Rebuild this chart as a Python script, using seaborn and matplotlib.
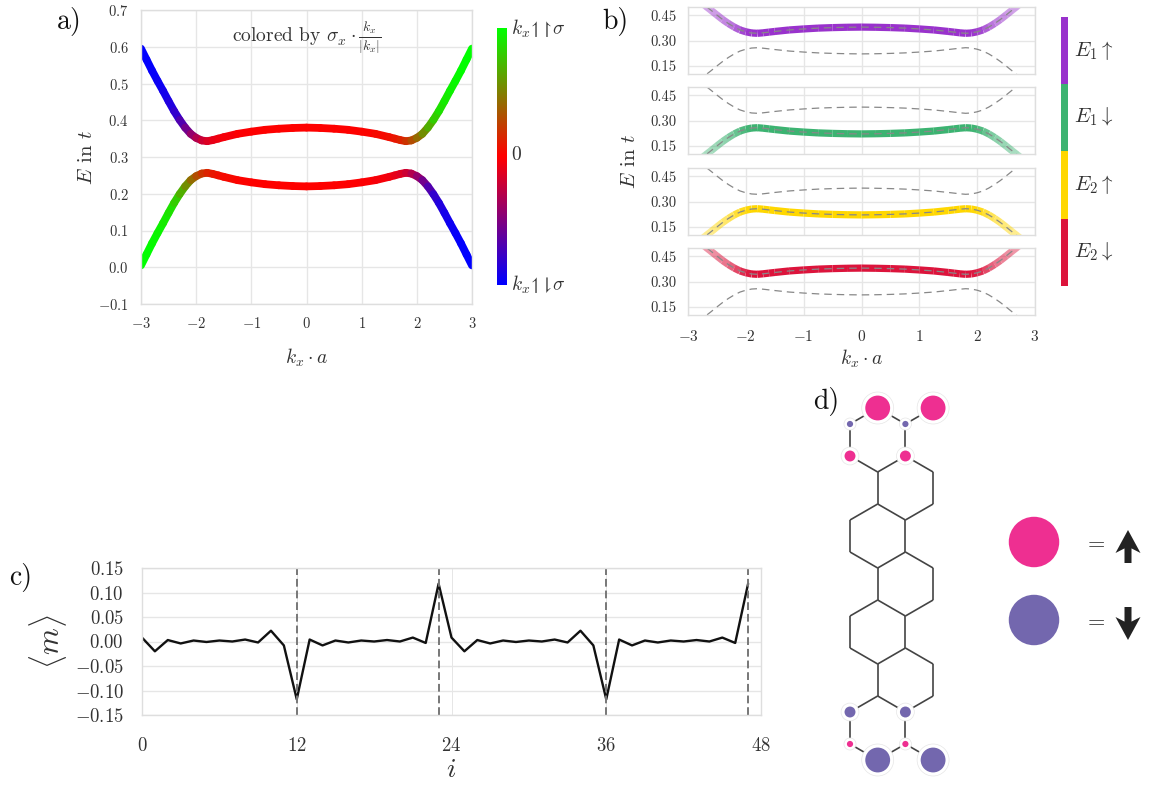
"""
Band structure, spin-resolved bands, magnetisation and lattice sketch.
"""
import numpy as np
import pandas as pd
import matplotlib
matplotlib.use("Agg")
import matplotlib.pyplot as plt
from matplotlib.collections import LineCollection
from matplotlib.colors import LinearSegmentedColormap, ListedColormap, Normalize, to_rgba
from matplotlib.cm import ScalarMappable
from matplotlib.patches import FancyArrow
import seaborn as sns

# momentum grid read off panels a) and b)
kx = [-3.0, -2.9, -2.8, -2.7, -2.6, -2.5, -2.4, -2.3, -2.2, -2.1, -2.0, -1.9, -1.8, -1.7, -1.6, -1.5,
      -1.25, -1.0, -0.75, -0.5, -0.25, 0.0, 0.25, 0.5, 0.75, 1.0, 1.25,
      1.5, 1.6, 1.7, 1.8, 1.9, 2.0, 2.1, 2.2, 2.3, 2.4, 2.5, 2.6, 2.7, 2.8, 2.9, 3.0]
upper_band = [0.595, 0.565, 0.535, 0.507, 0.480, 0.452, 0.425, 0.401, 0.380, 0.363, 0.352, 0.345, 0.343, 0.346, 0.350, 0.354,
              0.363, 0.369, 0.374, 0.377, 0.379, 0.380, 0.379, 0.377, 0.374, 0.369, 0.363,
              0.354, 0.350, 0.346, 0.343, 0.345, 0.352, 0.363, 0.380, 0.401, 0.425, 0.452, 0.480, 0.507, 0.535, 0.565, 0.595]
lower_band = [0.005, 0.035, 0.065, 0.093, 0.120, 0.148, 0.175, 0.199, 0.220, 0.237, 0.248, 0.255, 0.257, 0.254, 0.250, 0.246,
              0.237, 0.231, 0.226, 0.223, 0.221, 0.220, 0.221, 0.223, 0.226, 0.231, 0.237,
              0.246, 0.250, 0.254, 0.257, 0.255, 0.248, 0.237, 0.220, 0.199, 0.175, 0.148, 0.120, 0.093, 0.065, 0.035, 0.005]
upper_spin = [-1.0, -1.0, -0.98, -0.96, -0.94, -0.9, -0.85, -0.75, -0.62, -0.48, -0.36, -0.24, -0.16, -0.11, -0.07, -0.05,
              -0.02, -0.01, 0.0, 0.0, 0.0, 0.0, 0.0, 0.0, 0.0, 0.01, 0.02,
              0.05, 0.07, 0.11, 0.16, 0.24, 0.36, 0.48, 0.62, 0.75, 0.85, 0.9, 0.94, 0.96, 0.98, 1.0, 1.0]
lower_spin = [1.0, 1.0, 0.98, 0.96, 0.94, 0.9, 0.85, 0.75, 0.62, 0.48, 0.36, 0.24, 0.16, 0.11, 0.07, 0.05,
              0.02, 0.01, 0.0, 0.0, 0.0, 0.0, 0.0, 0.0, 0.0, -0.01, -0.02,
              -0.05, -0.07, -0.11, -0.16, -0.24, -0.36, -0.48, -0.62, -0.75, -0.85, -0.9, -0.94, -0.96, -0.98, -1.0, -1.0]
band_weight = [0.35, 0.38, 0.4, 0.43, 0.46, 0.5, 0.55, 0.62, 0.72, 0.85, 0.95, 1.0, 1.0, 1.0, 1.0, 1.0,
               1.0, 1.0, 1.0, 1.0, 1.0, 1.0, 1.0, 1.0, 1.0, 1.0, 1.0,
               1.0, 1.0, 1.0, 1.0, 1.0, 0.95, 0.85, 0.72, 0.62, 0.55, 0.5, 0.46, 0.43, 0.4, 0.38, 0.35]

# panel b) rows, top to bottom
row_labels = [r"$E_1\uparrow$", r"$E_1\downarrow$", r"$E_2\uparrow$", r"$E_2\downarrow$"]
row_colors = ["#9932CC", "#3CB371", "#FFD700", "#DC143C"]
row_is_upper = [True, False, False, True]

# panel c)
site_index = list(range(48))
magnetisation = [0.008, -0.020, 0.003, -0.004, 0.002, -0.001, 0.002, 0.000, 0.004, -0.002, 0.022, -0.008,
                 -0.118, 0.004, -0.008, 0.002, -0.002, 0.002, 0.000, 0.003, 0.000, 0.008, -0.003, 0.118,
                 0.008, -0.020, 0.003, -0.004, 0.002, -0.001, 0.002, 0.000, 0.004, -0.002, 0.022, -0.008,
                 -0.118, 0.004, -0.008, 0.002, -0.002, 0.002, 0.000, 0.003, 0.000, 0.008, -0.003, 0.118]
edge_sites = [12, 23, 36, 47]

# panel d) lattice, columns in half hexagon widths, levels counted from the top
site_col = [1, 3, 0, 2, 0, 2, 1, 3, 1, 3, 0, 2, 0, 2, 1, 3,
            1, 3, 0, 2, 0, 2, 1, 3, 1, 3, 0, 2, 0, 2, 1, 3]
site_level = [0, 0, 1, 1, 2, 2, 3, 3, 4, 4, 5, 5, 6, 6, 7, 7,
              8, 8, 9, 9, 10, 10, 11, 11, 12, 12, 13, 13, 14, 14, 15, 15]
moment_levels = [0, 1, 2, 13, 14, 15]
moment_values = [0.118, -0.008, 0.020, -0.020, 0.008, -0.118]

INK = "#333333"
PINK = "#EE2F91"
PURPLE = "#7367AE"
W, H = 1155, 785

sns.set_theme(style="whitegrid", rc={"grid.color": ".9", "axes.edgecolor": ".87", "axes.linewidth": 1.0})
plt.rcParams["font.family"] = ["cmr10", "DejaVu Serif"]
plt.rcParams["mathtext.fontset"] = "cm"
plt.rcParams["axes.formatter.use_mathtext"] = True
plt.rcParams["axes.unicode_minus"] = True


def axes_px(fig, left, top, right, bottom):
    return fig.add_axes([left / W, 1 - bottom / H, (right - left) / W, (bottom - top) / H])


def segments(x, y):
    pts = np.column_stack([x, y]).reshape(-1, 1, 2)
    return np.concatenate([pts[:-1], pts[1:]], axis=1)


def midpoints(v):
    v = np.asarray(v)
    return (v[:-1] + v[1:]) / 2


def style_ticks(ax, size, pad):
    ax.tick_params(axis="both", length=0, labelsize=size, labelcolor=INK, pad=pad)


fig = plt.figure(figsize=(W / 100, H / 100), dpi=100)

# a) band structure coloured by spin
spin_cmap = LinearSegmentedColormap.from_list("spin", ["#0000FF", "#FF0000", "#00FF00"])
spin_norm = Normalize(-1, 1)
ax_a = axes_px(fig, 141, 10, 472, 304)
for band, spin in [(upper_band, upper_spin), (lower_band, lower_spin)]:
    lc = LineCollection(segments(kx, band), cmap=spin_cmap, norm=spin_norm, linewidths=5.6,
                        capstyle="round", joinstyle="round")
    lc.set_array(midpoints(spin))
    ax_a.add_collection(lc)
ax_a.set_xlim(-3, 3)
ax_a.set_ylim(-0.1, 0.7)
ax_a.set_xticks([-3, -2, -1, 0, 1, 2, 3])
ax_a.set_yticks([-0.1, 0.0, 0.1, 0.2, 0.3, 0.4, 0.5, 0.6, 0.7])
style_ticks(ax_a, 10.5, 9)
ax_a.set_xlabel(r"$k_x \cdot a$", fontsize=14, color=INK, labelpad=11)
ax_a.set_ylabel(r"$E$ in $t$", fontsize=15, color=INK, labelpad=1)
ax_a.text(0, 0.625, r"colored by $\sigma_x \cdot \frac{k_x}{|k_x|}$", ha="center", va="center",
          fontsize=14, color=INK)

cax_a = axes_px(fig, 497, 28, 507, 285)
cb_a = fig.colorbar(ScalarMappable(norm=spin_norm, cmap=spin_cmap), cax=cax_a)
cb_a.outline.set_visible(False)
cb_a.set_ticks([])
cax_a.grid(False)

# b) one row per spin band
row_tops = [7, 87, 168, 248]
for n, top in enumerate(row_tops):
    ax = axes_px(fig, 688, top, 1035, top + 67)
    band = upper_band if row_is_upper[n] else lower_band
    colors = [to_rgba(row_colors[n], a) for a in midpoints(band_weight)]
    lc = LineCollection(segments(kx, band), colors=colors, linewidths=5.2, capstyle="butt")
    ax.add_collection(lc)
    for other in (upper_band, lower_band):
        sns.lineplot(x=kx, y=other, ax=ax, color="#888888", linestyle=(0, (6, 4)), linewidth=0.9,
                     errorbar=None, legend=False)
    ax.set_xlim(-3, 3)
    ax.set_ylim(0.1, 0.5)
    ax.set_xticks([-3, -2, -1, 0, 1, 2, 3])
    ax.set_yticks([0.15, 0.30, 0.45])
    ax.set_xlabel("")
    style_ticks(ax, 10.5, 8)
    ax.tick_params(axis="x", pad=10, labelsize=11)
    ax.set_yticklabels(["0.15", "0.30", "0.45"])
    if n < 3:
        ax.set_xticklabels([])
    else:
        ax.set_xlabel(r"$k_x \cdot a$", fontsize=14, color=INK, labelpad=3)

cax_b = axes_px(fig, 1061, 17, 1068, 286)
cb_b = fig.colorbar(ScalarMappable(norm=Normalize(0, 4), cmap=ListedColormap(row_colors[::-1])), cax=cax_b)
cb_b.outline.set_visible(False)
cb_b.set_ticks([])
cax_b.grid(False)

# c) magnetisation per site
ax_c = axes_px(fig, 142, 568, 761, 715)
df_c = pd.DataFrame({"i": site_index, "m": magnetisation})
sns.lineplot(data=df_c, x="i", y="m", ax=ax_c, color="#111111", linewidth=1.7, errorbar=None)
for site in edge_sites:
    ax_c.axvline(site, color="#777777", linestyle=(0, (4, 2)), linewidth=1.4)
ax_c.set_xlim(0, 48)
ax_c.set_ylim(-0.15, 0.15)
ax_c.set_xticks([0, 12, 24, 36, 48])
ax_c.set_yticks([-0.15, -0.10, -0.05, 0.0, 0.05, 0.10, 0.15])
style_ticks(ax_c, 13.5, 13)
ax_c.tick_params(axis="x", pad=16)
ax_c.set_xlabel(r"$i$", fontsize=20, color=INK, labelpad=1)
ax_c.set_ylabel(r"$\langle m \rangle$", fontsize=22, color=INK, labelpad=4)
ax_c.xaxis.grid(True, linewidth=0.7)

# overlay in pixel units for lattice, key and panel letters
ov = fig.add_axes([0, 0, 1, 1], facecolor="none")
ov.set_xlim(0, W)
ov.set_ylim(H, 0)
ov.axis("off")
ov.grid(False)

sites = pd.DataFrame({"col": site_col, "level": site_level})
sites["x"] = 850 + 27.7 * sites["col"]
sites["y"] = 408 + 48 * (sites["level"] // 2) + 16 * (sites["level"] % 2)

bonds = []
for a in sites.itertuples():
    for b in sites.itertuples():
        if b.level != a.level + 1:
            continue
        joined = a.col == b.col if a.level % 2 else abs(a.col - b.col) == 1
        if joined:
            bonds.append([(a.x, a.y), (b.x, b.y)])
ov.add_collection(LineCollection(bonds, colors="#444444", linewidths=1.2, zorder=1))

decorated = sites[sites["level"].isin(moment_levels)].copy()
decorated["m"] = decorated["level"].map(dict(zip(moment_levels, moment_values)))
decorated["size"] = decorated["m"].abs()
decorated["spin"] = np.where(decorated["m"] > 0, "up", "down")
sns.scatterplot(data=decorated, x="x", y="y", size="size", sizes={0.118: 530, 0.020: 165, 0.008: 75},
                color="white", edgecolor="#e6e6e6", linewidth=0.5, ax=ov, legend=False, zorder=2)
sns.scatterplot(data=decorated, x="x", y="y", size="size", sizes={0.118: 320, 0.020: 62, 0.008: 20},
                hue="spin", palette={"up": PINK, "down": PURPLE}, linewidth=0, ax=ov, legend=False, zorder=3)
ov.set_xlabel("")
ov.set_ylabel("")

# spin key
key = pd.DataFrame({"x": [1034, 1034], "y": [542, 620], "spin": ["up", "down"]})
sns.scatterplot(data=key, x="x", y="y", hue="spin", palette={"up": PINK, "down": PURPLE}, s=1320,
                linewidth=0, ax=ov, legend=False)
ov.set_xlabel("")
ov.set_ylabel("")
for y in (544, 622):
    ov.text(1096, y, "=", ha="center", va="center", fontsize=16, color="#222222")
ov.add_patch(FancyArrow(1128, 563, 0, -33, width=7, head_width=25, head_length=23, overhang=0.2,
                        length_includes_head=True, color="#222222", linewidth=0))
ov.add_patch(FancyArrow(1128, 607, 0, 33, width=7, head_width=25, head_length=23, overhang=0.2,
                        length_includes_head=True, color="#222222", linewidth=0))
ov.set_xlim(0, W)
ov.set_ylim(H, 0)

# colour bar captions, shared label of panel b) and panel letters
ov.text(511, 29, r"$k_x\!\upharpoonleft\!\!\upharpoonright\!\sigma$", va="center", fontsize=14, color=INK)
ov.text(511, 155, "0", va="center", fontsize=14, color=INK)
ov.text(511, 285, r"$k_x\!\upharpoonleft\!\!\downharpoonright\!\sigma$", va="center", fontsize=14, color=INK)
for y, label in zip([50, 117, 185, 252], row_labels):
    ov.text(1074, y, label, va="center", fontsize=15, color=INK)
ov.text(630, 161, r"$E$ in $t$", rotation=90, ha="center", va="center", fontsize=15, color=INK)
for x, y, letter in [(57, 22, "a)"), (602, 22, "b)"), (9, 577, "c)"), (813, 402, "d)")]:
    ov.text(x, y, letter, va="center", fontsize=20, color="#111111")

fig.savefig("out.png", dpi=100)
